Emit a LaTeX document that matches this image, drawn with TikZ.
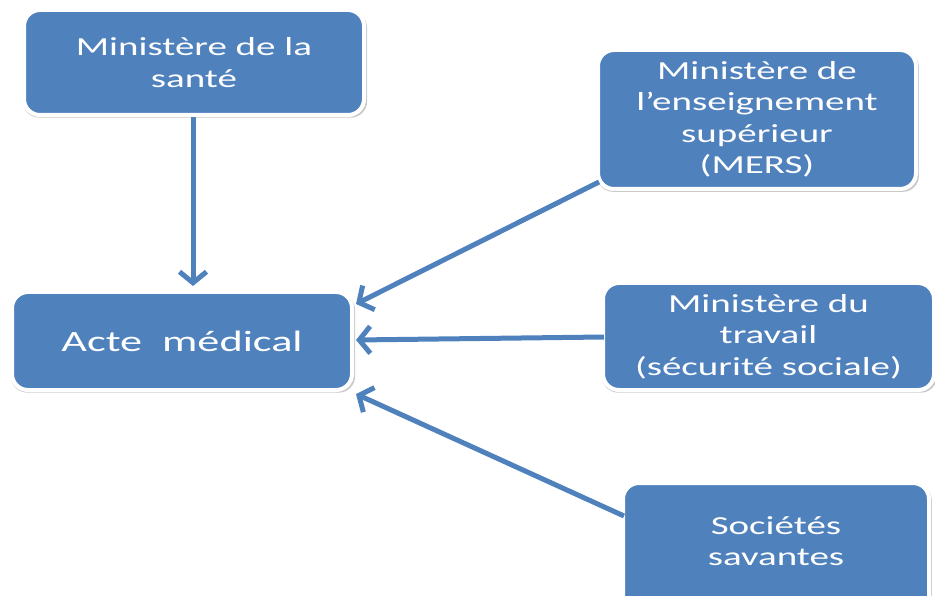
\documentclass[tikz,border=0pt]{standalone}
\usepackage{fontspec}
\setmainfont[FakeStretch=1.5]{Carlito}
\usetikzlibrary{arrows.meta,shadows}
\definecolor{boxblue}{RGB}{79,129,189}
\tikzset{
  box/.style={draw=white, line width=4pt, fill=boxblue, rounded corners=16pt,
    text=white, align=center, inner sep=0pt,
    font=\fontsize{26pt}{31.5pt}\selectfont,
    general shadow={shadow scale=1.012, shadow xshift=1pt, shadow yshift=-2pt, opacity=0.3, fill=black!70}},
  link/.style={draw=boxblue, line width=5pt,
    -{Straight Barb[length=11pt,width=27pt,line width=5pt]}}
}
\begin{document}
\begin{tikzpicture}[x=1pt,y=-1pt]
\useasboundingbox (0,0) rectangle (935,596);
\node[box, minimum width=340pt, minimum height=105pt] (sante) at (194,62.5) {Ministère de la\\santé};
\node[box, minimum width=318pt, minimum height=139pt] (mers) at (757,119.5) {Ministère de\\l’enseignement\\supérieur\\(MERS)};
\node[box, minimum width=340pt, minimum height=98pt, font=\fontsize{29.5pt}{35pt}\selectfont] (acte) at (182,341) {Acte~ médical};
\node[box, minimum width=331pt, minimum height=107pt] (travail) at (768.5,336.5) {Ministère du\\travail\\(sécurité sociale)};
\node[box, minimum width=306pt, minimum height=129pt] (soc) at (776,547.5) {};
\node[text=white, align=center, font=\fontsize{26pt}{31.5pt}\selectfont] (soctext) at (776,541) {Sociétés\\savantes};
\coordinate (t1) at (193,286);
\coordinate (t2) at (356,304);
\coordinate (t3) at (356,340);
\coordinate (t4) at (356,394);
\coordinate (s2) at (599,182);
\coordinate (s3) at (604,337);
\coordinate (s4) at (624,516);
\draw[link] (sante.south -| t1) -- (t1);
\draw[link] (s2) -- (t2);
\draw[link] (s3) -- (t3);
\draw[link] (s4) -- (t4);
\end{tikzpicture}
\end{document}
